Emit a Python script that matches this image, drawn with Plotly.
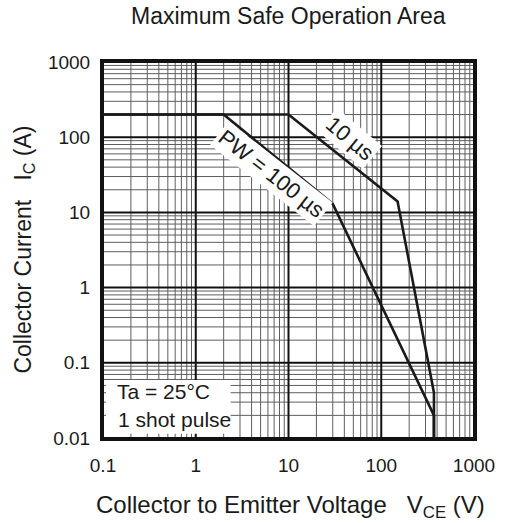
import numpy as np
import plotly.graph_objects as go

# ---- data ----
pw100_v = [0.1, 2, 30, 370, 370]
pw100_i = [200, 200, 13, 0.02, 0.01]
pw10_v = [0.1, 10, 150, 370, 370]
pw10_i = [200, 200, 14, 0.04, 0.01]

x_tick_vals = [0.1, 1, 10, 100, 1000]
x_tick_text = ["0.1", "1", "10", "100", "1000"]
y_tick_vals = [0.01, 0.1, 1, 10, 100, 1000]
y_tick_text = ["0.01", "0.1", "1", "10", "100", "1000"]

FONT = "Liberation Sans, Arial, sans-serif"
XMIN, XMAX = 0.1, 1000
YMIN, YMAX = 0.01, 1000

fig = go.Figure()

# grid lines
def vlines(vals):
    xs, ys = [], []
    for v in vals:
        xs += [v, v, None]
        ys += [YMIN, YMAX, None]
    return xs, ys

def hlines(vals):
    xs, ys = [], []
    for v in vals:
        xs += [XMIN, XMAX, None]
        ys += [v, v, None]
    return xs, ys

x_minor = [d * m for d in x_tick_vals[:-1] for m in range(2, 10)]
y_minor = [d * m for d in y_tick_vals[:-1] for m in range(2, 10)]

for xs, ys in (vlines(x_minor), hlines(y_minor)):
    fig.add_trace(go.Scatter(x=xs, y=ys, mode="lines",
                             line=dict(color="#5e5e5e", width=1),
                             hoverinfo="skip", showlegend=False))
for xs, ys in (vlines(x_tick_vals), hlines(y_tick_vals)):
    fig.add_trace(go.Scatter(x=xs, y=ys, mode="lines",
                             line=dict(color="#111", width=2),
                             hoverinfo="skip", showlegend=False))

# data curves
for vx, iy in ((pw100_v, pw100_i), (pw10_v, pw10_i)):
    fig.add_trace(go.Scatter(x=vx, y=iy, mode="lines",
                             line=dict(color="#1a1a1a", width=2.6),
                             hoverinfo="skip", showlegend=False))

# white box for condition text
fig.add_shape(type="rect", xref="x domain", yref="y domain",
              x0=0.008, x1=0.344, y0=0.011, y1=0.154,
              fillcolor="white", line=dict(width=0), layer="above")

fig.add_annotation(text="Ta = 25°C", xref="x domain", yref="y domain",
                   x=0.032, y=0.125, xanchor="left", yanchor="middle",
                   showarrow=False, font=dict(family=FONT, size=21, color="#1a1a1a"))
fig.add_annotation(text="1 shot pulse", xref="x domain", yref="y domain",
                   x=0.036, y=0.048, xanchor="left", yanchor="middle",
                   showarrow=False, font=dict(family=FONT, size=21, color="#1a1a1a"))

# curve labels (log axes -> log10 positions)
fig.add_annotation(text="10 µs", x=np.log10(46), y=np.log10(97), textangle=40,
                   showarrow=False, bgcolor="white", borderpad=2,
                   font=dict(family=FONT, size=22, color="#1a1a1a"))
fig.add_annotation(text="PW = 100 µs", x=np.log10(6.5), y=np.log10(33), textangle=38,
                   showarrow=False, bgcolor="white", borderpad=2,
                   font=dict(family=FONT, size=22, color="#1a1a1a"))

# titles
fig.add_annotation(text="Maximum Safe Operation Area", xref="paper", yref="paper",
                   x=0.5, y=1.122, xanchor="center", yanchor="middle", showarrow=False,
                   font=dict(family=FONT, size=23, color="#1a1a1a"))
fig.add_annotation(text="Collector to Emitter Voltage\u00a0\u00a0\u00a0V<sub>CE</sub> (V)",
                   xref="paper", yref="paper", x=0.505, y=-0.183,
                   xanchor="center", yanchor="middle", showarrow=False,
                   font=dict(family=FONT, size=24, color="#1a1a1a"))
fig.add_annotation(text="Collector Current\u00a0\u00a0\u00a0I<sub>C</sub> (A)",
                   xref="paper", yref="paper", x=-0.214, y=0.5, textangle=-90,
                   xanchor="center", yanchor="middle", showarrow=False,
                   font=dict(family=FONT, size=23, color="#1a1a1a"))

fig.update_xaxes(type="log", range=[np.log10(XMIN), np.log10(XMAX)],
                 showgrid=False, zeroline=False,
                 showline=True, linecolor="#111", linewidth=3, mirror=True,
                 tickvals=x_tick_vals, ticktext=x_tick_text,
                 ticks="outside", ticklen=8, tickcolor="rgba(0,0,0,0)",
                 tickfont=dict(family=FONT, size=19, color="#1a1a1a"))
fig.update_yaxes(type="log", range=[np.log10(YMIN), np.log10(YMAX)],
                 showgrid=False, zeroline=False,
                 showline=True, linecolor="#111", linewidth=3, mirror=True,
                 tickvals=y_tick_vals, ticktext=y_tick_text,
                 ticks="outside", ticklen=6, tickcolor="rgba(0,0,0,0)",
                 tickfont=dict(family=FONT, size=19, color="#1a1a1a"))

fig.update_layout(width=507, height=523,
                  margin=dict(l=103, r=26, t=62, b=85),
                  paper_bgcolor="white", plot_bgcolor="white",
                  showlegend=False, hovermode=False)

fig.write_html("out.html",
               config={"displayModeBar": False, "staticPlot": True},
               post_script="document.body.style.margin='0px';")
